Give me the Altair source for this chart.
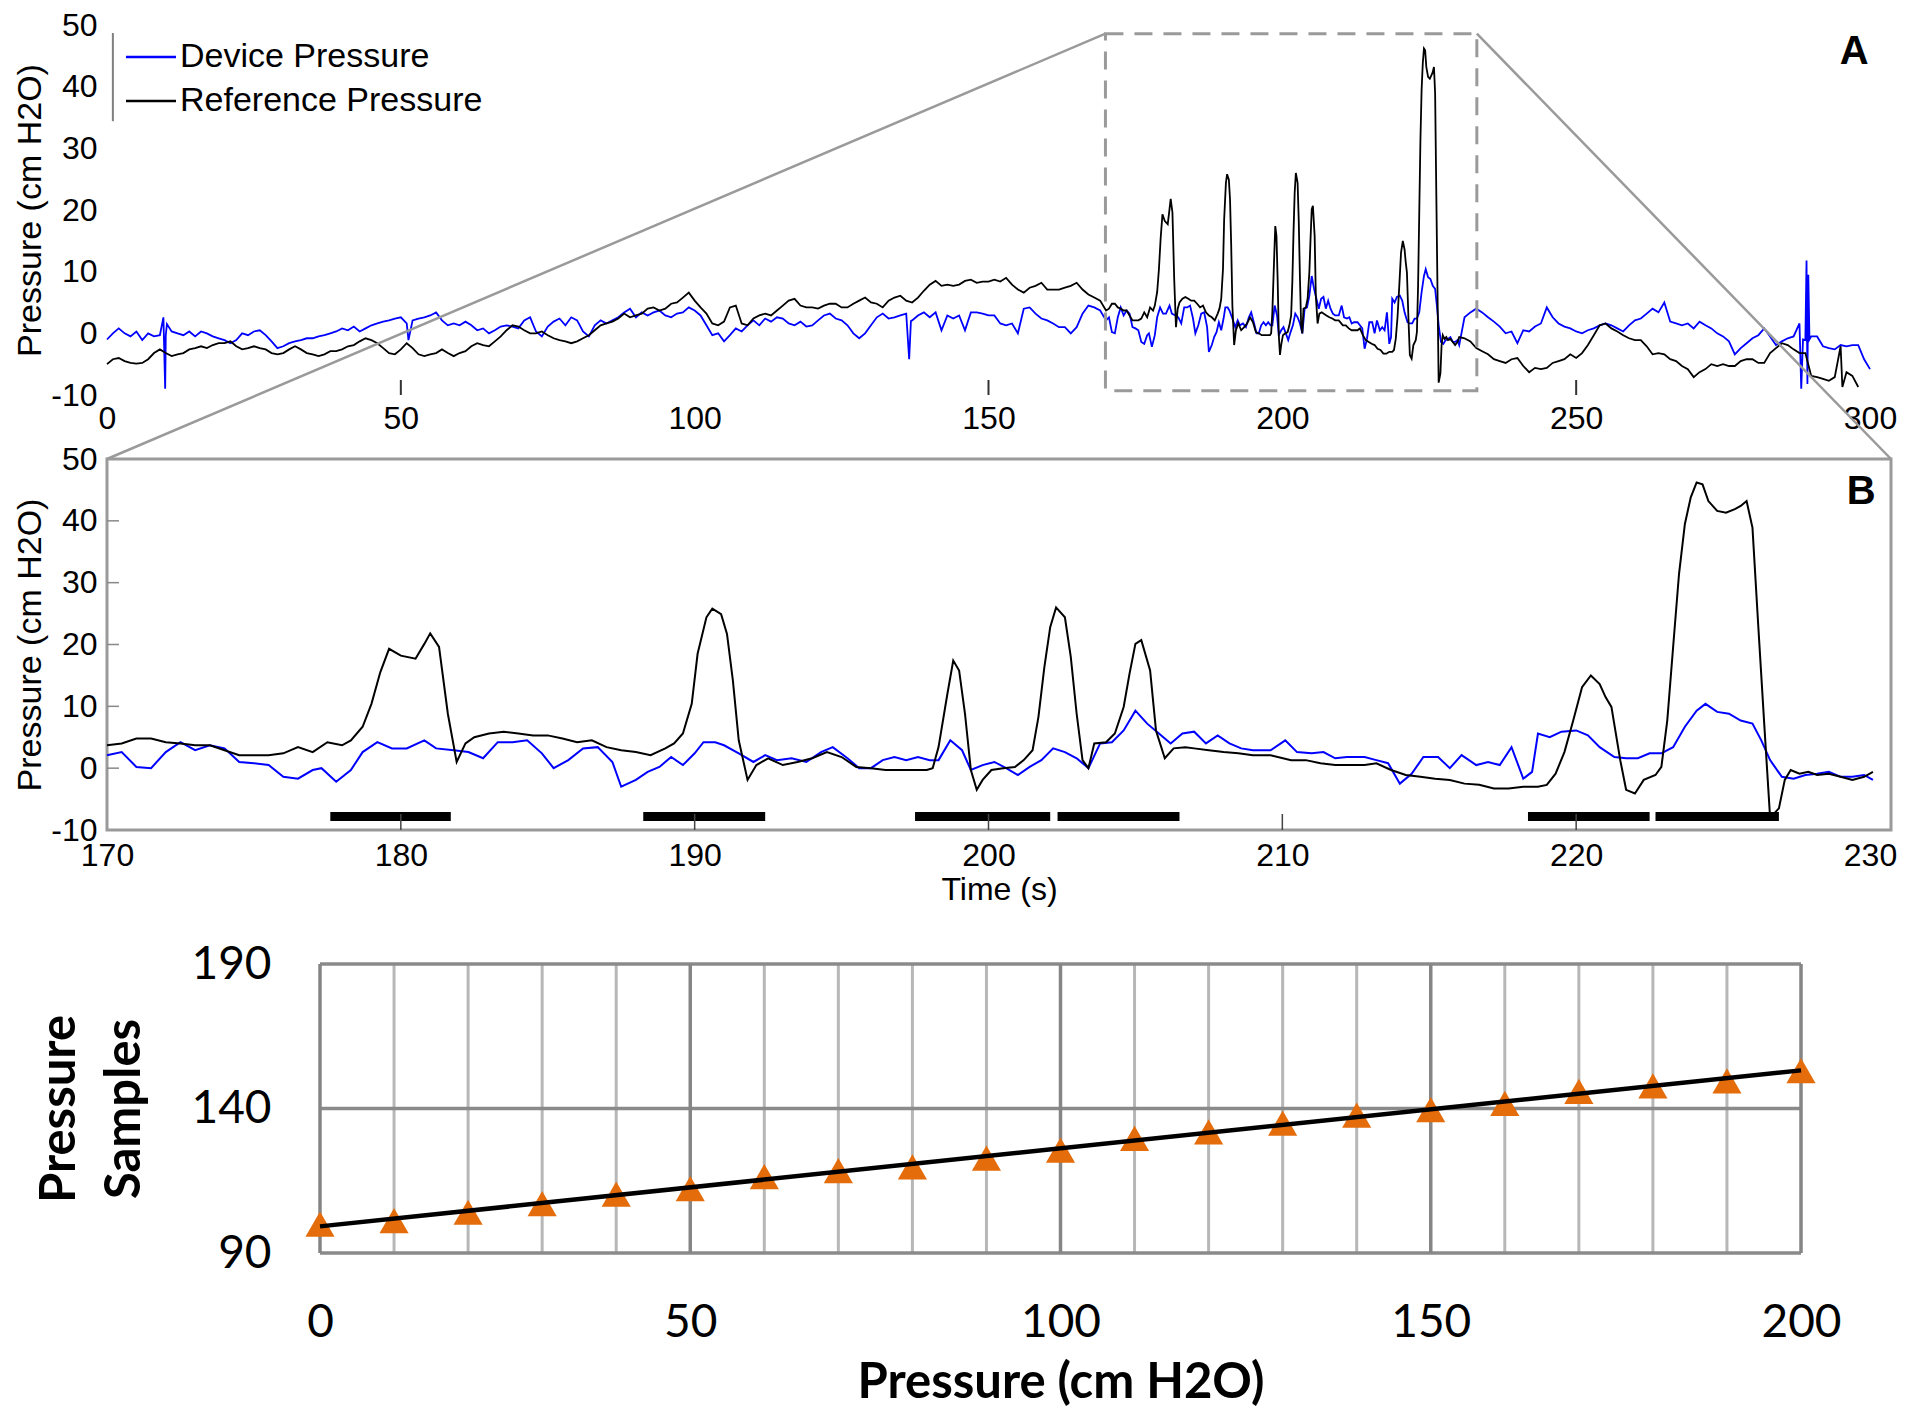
import altair as alt
import pandas as pd

ARIAL = "Liberation Sans"
CAL = "Lato"
BLUE = "#0000ff"
BLACK = "#000000"
GREY = "#9a9a9a"

SERIES = ["Device Pressure", "Reference Pressure"]

# ---------------- Panel A : whole recording, 0-300 s ----------------
a_time_pre = list(range(0, 170))
a_ref_pre = [
    -5.0, -4.2, -4.0, -4.5, -4.8, -4.9, -4.8, -4.2, -3.2, -2.6,
    -3.2, -3.7, -3.4, -3.2, -2.6, -2.4, -2.1, -2.4, -1.9, -1.6,
    -1.6, -1.3, -2.1, -2.6, -2.4, -2.1, -2.4, -2.6, -3.2, -3.4,
    -3.2, -2.6, -2.1, -2.6, -3.2, -3.4, -3.7, -3.4, -2.9, -2.9,
    -2.6, -2.1, -1.9, -1.3, -0.8, -1.1, -1.6, -2.4, -3.2, -3.4,
    -2.6, -1.6, -2.4, -3.4, -3.7, -3.4, -3.2, -2.6, -3.2, -3.7,
    -3.2, -2.9, -2.1, -1.6, -1.9, -2.1, -1.3, -0.5, 0.5, 1.3,
    1.1, 0.5, 0.0,
    0.0, 0.3, -0.3, -0.8, -1.1, -1.3, -1.6, -1.3, -0.8, -0.3,
    0.5, 1.3, 1.6, 1.9, 2.4, 3.2, 2.6, 2.9, 3.2, 4.0,
    4.2, 3.7, 4.0, 4.8, 5.0, 5.8, 6.6, 5.3, 4.2, 3.2,
    1.6, 1.3, 1.9, 4.2, 4.5, 1.6, 1.3, 2.4, 2.9, 3.2,
    2.9, 3.7, 4.5, 5.3, 5.6, 4.5, 4.2, 4.2, 4.0, 4.5,
    4.8, 4.8, 4.2, 4.2, 4.8, 5.3, 5.8, 5.0, 4.8, 4.2,
    5.3, 5.8, 6.1, 5.3, 5.0, 5.8, 6.9, 7.9, 8.5, 7.7,
    7.9, 7.7, 7.9, 8.5, 8.7,
    8.2, 8.4, 8.4, 8.7, 8.4, 9.0, 7.9, 7.1, 6.6, 7.4,
    7.7, 8.2, 7.1, 7.1, 7.1, 7.4, 7.7, 8.2, 7.1, 6.3,
    5.8, 5.3,
]
a_dev_pre = [
    -1.0, 0.0, 0.8, 0.0, -0.5, 0.3, -1.1, 0.0, -0.5, -0.3,
    -0.3, 0.3, 0.0, -0.3, 0.3, -0.5, 0.3, 0.0, -0.5, -0.8,
    -1.1, -1.6, -1.1, 0.0, -0.3, 0.3, 0.5, -0.3, -1.3, -2.4,
    -2.1, -1.6, -1.3, -1.1, -0.8, -0.8, -0.5, -0.3, 0.0, 0.3,
    0.8, 0.5, 1.1, 0.3, 0.8, 1.3, 1.6, 1.9, 2.1, 2.4,
    2.6, 1.6, 2.1, 2.4, 2.6, 2.9, 3.4, 2.1, 1.3, 1.6,
    1.3, 1.9, 1.3, 0.5, 0.8, 0.0, 0.5, 1.1, 1.3, 1.1,
    0.8, 2.1, 2.6,
    0.3, -0.5, 1.1, 1.9, 2.4, 1.3, 2.6, 2.1, 0.3, -0.5,
    1.3, 2.1, 1.6, 2.1, 2.6, 3.4, 4.0, 2.6, 3.4, 2.9,
    3.4, 3.7, 2.9, 2.6, 3.2, 3.4, 4.2, 3.7, 2.9, 1.3,
    -0.3, 0.0, -1.3, -0.3, 0.8, 0.3, 1.3, 2.1, 1.3, 2.4,
    1.9, 2.6, 2.4, 1.6, 1.3, 1.9, 1.1, 1.3, 2.1, 2.9,
    3.2, 2.4, 2.1, 1.3, 0.0, -0.8, 0.0, 1.3, 2.6, 3.2,
    2.4, 2.6, 2.9, 3.2, 2.1, 2.9, 3.4, 2.6, 3.4, 0.5,
    2.9, 2.4, 2.9, 0.5, 3.4,
    3.4, 3.2, 2.9, 2.9, 1.6, 1.3, 1.6, 0.0, 4.0, 4.2,
    3.2, 2.4, 2.1, 1.6, 1.0, 1.0, 0.0, 1.0, 3.2, 4.5,
    4.2, 3.7,
]
a_time_post_ref = list(range(231, 299))
a_ref_post = [
    -0.8, -1.3, -2.4, -2.9, -3.4, -4.2, -4.5, -4.8, -4.2, -4.0,
    -5.3, -6.3, -5.6, -5.8, -5.6, -4.8, -4.5, -4.2, -3.4, -4.0,
    -3.2, -1.9, -0.3, 1.3, 1.6, 0.8, 0.3, -0.3, -0.8, -1.1,
    -1.1, -2.1, -3.4, -3.2, -3.4, -4.2, -4.5, -5.3, -5.8, -7.1,
    -6.3, -5.8, -5.0, -5.3, -5.0, -5.3, -5.3, -4.5, -4.2, -4.2,
    -4.8, -4.8, -3.2, -2.4, -1.6, -1.9, -2.6, -3.2, -3.2, -6.9,
    -7.1, -7.4, -7.7, -7.1, -2.1, -6.3, -6.9, -8.7,
]
a_time_post_dev = list(range(231, 301))
a_dev_post = [
    2.6, 3.4, 4.0, 3.4, 2.6, 1.9, 1.1, 0.0, 0.3, -1.6,
    0.5, 0.3, 1.1, 1.6, 4.2, 2.6, 1.6, 1.1, 0.8, 0.3,
    0.0, 0.5, 0.8, 1.3, 1.6, 1.3, 0.8, 0.3, 1.3, 2.1,
    2.4, 3.2, 4.0, 3.4, 5.0, 1.9, 1.6, 1.3, 1.6, 0.8,
    1.9, 1.3, 0.8, 0.0, -0.5, -1.3, -3.4, -2.4, -1.6, -0.8,
    -0.3, 0.8, -0.5, -1.9, -1.3, -0.8, -0.5, 1.6, -1.1, -0.5,
    -0.5, -2.1, -2.4, -2.6, -1.9, -2.1, -1.9, -1.9, -4.2, -5.8,
]
a_dev_spikes = [(9.6, 2.6), (9.9, -9.0), (10.2, 1.5), (51.3, -1.1),
                (136.5, -4.2), (136.8, 2.0), (288.3, -9.0), (288.6, -1.0),
                (289.2, 11.8), (289.35, -8.2), (289.5, 9.5), (289.7, -1.0)]
a_ref_spikes = [(295.3, -8.7)]

# zoom window drawn on panel A: t from, t to, v from, v to
zoom_box = [(169.9, 233.1, -9.3, 48.6)]

# ---------------- Panel B : zoom 170-230 s ----------------
b_ref = [
    (170.0, 3.7), (170.5, 4.0), (171.0, 4.8), (171.5, 4.8), (172.0, 4.2), (172.5, 4.0),
    (173.0, 3.7), (173.5, 3.7), (174.0, 2.9), (174.5, 2.1), (175.0, 2.1), (175.5, 2.1),
    (176.0, 2.4), (176.5, 3.4), (177.0, 2.6), (177.5, 4.2), (178.0, 3.7), (178.3, 4.5),
    (178.7, 6.7), (179.0, 10.4), (179.3, 15.5), (179.6, 19.3), (180.0, 18.2), (180.5, 17.7),
    (180.8, 20.1), (181.0, 21.8), (181.3, 19.6), (181.6, 8.8), (181.9, 1.0), (182.2, 4.0),
    (182.5, 5.0), (183.0, 5.6), (183.5, 5.9), (184.0, 5.6), (184.5, 5.3), (185.0, 5.3),
    (185.5, 4.8), (186.0, 4.2), (186.5, 4.5), (187.0, 3.4), (187.5, 2.9), (188.0, 2.6),
    (188.5, 2.1), (189.0, 3.2), (189.3, 4.0), (189.6, 5.6), (189.9, 10.4), (190.1, 18.5),
    (190.4, 24.4), (190.6, 25.8), (190.9, 24.9), (191.1, 21.7), (191.3, 14.2), (191.5, 4.5),
    (191.8, -1.9), (192.1, 0.5), (192.5, 1.6), (193.0, 0.5), (193.5, 1.0), (194.0, 1.6),
    (194.5, 2.6), (195.0, 1.8), (195.5, 0.2), (196.0, 0.0), (196.5, -0.3), (197.0, -0.3),
    (197.5, -0.3), (197.9, -0.3), (198.1, 0.0), (198.3, 3.4), (198.6, 12.0), (198.8, 17.4),
    (199.0, 15.8), (199.2, 8.8), (199.4, -0.3), (199.6, -3.5), (199.8, -1.9), (200.1, -0.3),
    (200.5, 0.0), (200.9, 0.2), (201.2, 1.3), (201.5, 2.9), (201.7, 8.3), (201.9, 16.3),
    (202.1, 22.8), (202.3, 26.0), (202.6, 24.4), (202.8, 18.0), (203.0, 8.8), (203.2, 1.3),
    (203.4, 0.0), (203.6, 4.0), (204.0, 4.2), (204.3, 5.6), (204.6, 9.9), (204.8, 15.3),
    (205.0, 20.1), (205.2, 20.7), (205.5, 15.8), (205.7, 6.1), (206.0, 1.6), (206.3, 3.2),
    (206.7, 3.4), (207.0, 3.2), (207.5, 2.9), (208.0, 2.6), (208.5, 2.4), (209.0, 2.1),
    (209.6, 2.1), (210.3, 1.3), (210.8, 1.3), (211.3, 0.8), (211.8, 0.5), (212.3, 0.5),
    (212.8, 0.5), (213.2, 0.8), (213.7, -0.3), (214.2, -1.1), (214.7, -1.4), (215.2, -1.7),
    (215.7, -1.9), (216.2, -2.5), (216.7, -2.7), (217.2, -3.3), (217.7, -3.3), (218.2, -3.0),
    (218.7, -3.0), (219.0, -2.7), (219.3, -0.9), (219.6, 2.6), (219.9, 7.7), (220.2, 13.1),
    (220.5, 15.0), (220.8, 13.6), (221.0, 11.5), (221.2, 9.9), (221.5, 1.3), (221.7, -3.5),
    (222.0, -4.1), (222.3, -1.9), (222.7, -1.1), (222.9, 0.2), (223.1, 7.7), (223.3, 19.6),
    (223.5, 31.4), (223.7, 39.5), (223.9, 43.8), (224.1, 46.2), (224.3, 45.9), (224.5, 43.2),
    (224.8, 41.6), (225.1, 41.3), (225.4, 41.9), (225.6, 42.4), (225.8, 43.2), (226.0, 38.9),
    (226.2, 22.8), (226.4, 7.2), (226.6, -8.0), (226.9, -6.5), (227.1, -1.9), (227.3, -0.3),
    (227.6, -0.9), (227.9, -0.6), (228.2, -1.1), (228.6, -0.9), (229.0, -1.4), (229.4, -1.9),
    (229.8, -1.4), (230.1, -0.6),
]
b_dev = [
    (170.0, 2.1), (170.5, 2.6), (171.0, 0.2), (171.5, 0.0), (172.0, 2.6), (172.5, 4.2),
    (173.0, 2.9), (173.5, 3.7), (174.0, 3.2), (174.5, 1.0), (175.0, 0.8), (175.5, 0.5),
    (176.0, -1.4), (176.5, -1.7), (177.0, -0.3), (177.3, 0.0), (177.8, -2.2), (178.3, -0.3),
    (178.7, 2.6), (179.2, 4.2), (179.7, 3.2), (180.2, 3.2), (180.8, 4.5), (181.2, 3.2),
    (181.8, 2.9), (182.3, 2.6), (182.8, 1.6), (183.3, 4.2), (183.8, 4.2), (184.3, 4.5),
    (184.8, 2.4), (185.2, 0.0), (185.7, 1.3), (186.2, 3.2), (186.7, 3.4), (187.2, 1.0),
    (187.5, -3.0), (188.0, -1.9), (188.4, -0.6), (188.8, 0.2), (189.2, 1.8), (189.6, 0.5),
    (190.0, 2.4), (190.3, 4.2), (190.7, 4.2), (191.0, 3.7), (191.5, 2.4), (192.0, 1.0),
    (192.4, 2.1), (192.8, 1.3), (193.3, 1.6), (193.8, 1.0), (194.3, 2.6), (194.7, 3.4),
    (195.2, 1.6), (195.6, 0.0), (196.0, 0.0), (196.4, 1.3), (196.8, 1.8), (197.2, 1.3),
    (197.6, 1.8), (198.0, 1.3), (198.3, 1.3), (198.7, 4.5), (199.1, 2.9), (199.4, -0.3),
    (199.8, 0.5), (200.2, 1.0), (200.6, 0.0), (201.0, -1.1), (201.4, 0.2), (201.8, 1.3),
    (202.2, 3.2), (202.6, 2.6), (203.0, 1.6), (203.4, 0.0), (203.8, 4.0), (204.2, 4.2),
    (204.6, 6.1), (205.0, 9.3), (205.4, 7.2), (205.8, 5.6), (206.2, 4.0), (206.6, 5.6),
    (207.0, 5.9), (207.4, 4.0), (207.8, 5.3), (208.2, 4.0), (208.6, 3.2), (209.0, 2.9),
    (209.6, 2.9), (210.1, 4.5), (210.5, 2.6), (211.0, 2.4), (211.4, 2.6), (211.8, 1.6),
    (212.2, 1.8), (212.8, 1.8), (213.2, 1.3), (213.6, 0.8), (214.0, -2.5), (214.4, -0.9),
    (214.8, 1.8), (215.3, 1.8), (215.7, 0.0), (216.1, 2.1), (216.6, 0.5), (217.0, 1.0),
    (217.4, 0.5), (217.8, 3.4), (218.2, -1.7), (218.5, -0.6), (218.7, 5.6), (219.1, 5.0),
    (219.5, 5.9), (220.0, 6.1), (220.4, 5.3), (220.8, 3.4), (221.3, 1.8), (221.7, 1.6),
    (222.1, 1.6), (222.5, 2.4), (222.9, 2.4), (223.3, 3.4), (223.7, 6.7), (224.1, 9.3),
    (224.4, 10.4), (224.8, 9.1), (225.2, 8.8), (225.6, 7.7), (226.0, 7.2), (226.3, 4.5),
    (226.6, 1.3), (227.0, -1.4), (227.4, -1.7), (227.8, -1.1), (228.2, -0.9), (228.6, -0.6),
    (229.0, -1.4), (229.4, -1.4), (229.8, -1.1), (230.1, -1.9),
]
# black event bars (start, end in s) drawn at -7.8 cm H2O
b_bars = [(177.6, 181.7), (188.25, 192.4), (197.5, 202.1), (202.35, 206.5),
          (218.36, 222.5), (222.7, 226.9)]
b_bar_level = -7.8

# ---------------- Panel C : calibration ----------------
c_pressure = list(range(0, 201, 10))
c_samples = [100.0, 101.2, 104.1, 107.1, 110.4, 112.3, 116.4, 118.5, 119.8, 122.8,
             125.6, 129.7, 131.9, 134.9, 137.7, 139.6, 141.8, 145.9, 147.8, 149.6, 153.1]
c_ytick = [90, 140, 190]
c_xtick = [0, 50, 100, 150, 200]

# ---------------- geometry ----------------
A_W, A_H = 1763, 370
B_W, B_H = 1784, 371
GAP = 64
C_X0, C_W = 213, 1694
C_Y0, C_H = 70, 359

a_px_per_v = A_H / 60.0
a_px_per_t = A_W / 300.0
b_xmax = 170 + 60 * B_W / A_W
b_top_in_a = -10 - GAP / a_px_per_v
b_right_in_a = B_W / a_px_per_t

# ---------------- tables ----------------
def pairs_df(pairs, name):
    return pd.DataFrame(pairs, columns=["t", "v"]).assign(series=name)

a_dev_pairs = (list(zip(a_time_pre, a_dev_pre)) + [p for p in b_dev if p[0] <= 230.1]
               + list(zip(a_time_post_dev, a_dev_post)) + a_dev_spikes)
a_ref_pairs = (list(zip(a_time_pre, a_ref_pre)) + [p for p in b_ref if p[0] <= 230.1]
               + list(zip(a_time_post_ref, a_ref_post)) + a_ref_spikes)
a_df = pd.concat([pairs_df(a_dev_pairs, SERIES[0]), pairs_df(a_ref_pairs, SERIES[1])])
b_df = pd.concat([pairs_df(b_dev, SERIES[0]), pairs_df(b_ref, SERIES[1])])

box = zoom_box[0]
box_df = pd.DataFrame([{"t": box[0], "t2": box[1], "v": box[2], "v2": box[3]}])
conn_df = pd.DataFrame([
    {"t": box[0], "v": box[3], "t2": 0, "v2": b_top_in_a},
    {"t": box[1], "v": box[3], "t2": b_right_in_a, "v2": b_top_in_a},
])
color_scale = alt.Scale(domain=SERIES, range=[BLUE, BLACK])
HYPHEN = "'' + datum.value"

# ---------------- Panel A ----------------
xa = alt.Scale(domain=[0, 300], nice=False, zero=False)
ya = alt.Scale(domain=[-10, 50], nice=False, zero=False)
xa_axis = alt.Axis(values=list(range(0, 301, 50)), title=None, domain=False, ticks=False,
                   grid=False, labelFont=ARIAL, labelFontSize=32, labelPadding=8,
                   labelFlush=False, labelOverlap=False, labelColor="#000")
ya_axis = alt.Axis(values=list(range(-10, 51, 10)), title="Pressure (cm H2O)", domain=False,
                   ticks=False, grid=False, labelFont=ARIAL, labelFontSize=32, labelPadding=10,
                   labelExpr=HYPHEN, labelColor="#000", titleFont=ARIAL, titleFontSize=34,
                   titleFontWeight="normal", titleColor="#000", titlePadding=3)

a_lines = alt.Chart(a_df).mark_line(strokeWidth=1.8).encode(
    x=alt.X("t:Q", scale=xa, axis=xa_axis),
    y=alt.Y("v:Q", scale=ya, axis=ya_axis),
    color=alt.Color("series:N", scale=color_scale, legend=alt.Legend(
        title=None, orient="none", legendX=27, legendY=15, padding=0,
        symbolType="M-2,0H2", symbolSize=625, symbolStrokeWidth=2.5,
        labelFont=ARIAL, labelFontSize=34, labelColor="#000", labelOffset=12,
        labelLimit=600, rowPadding=10)),
    detail="series:N",
)
a_box = alt.Chart(box_df).mark_rect(fillOpacity=0, stroke=GREY, strokeWidth=3,
                                     strokeDash=[18, 11]).encode(
    x=alt.X("t:Q", scale=xa, axis=xa_axis), x2="t2:Q",
    y=alt.Y("v:Q", scale=ya, axis=ya_axis), y2="v2:Q")
a_conn = alt.Chart(conn_df).mark_rule(color=GREY, strokeWidth=2.5).encode(
    x=alt.X("t:Q", scale=xa, axis=xa_axis), x2="t2:Q",
    y=alt.Y("v:Q", scale=ya, axis=ya_axis), y2="v2:Q")
a_ticks = alt.Chart(pd.DataFrame({"t": [50, 150, 250]})).mark_rule(
    color="#333333", strokeWidth=2).encode(
    x=alt.X("t:Q", scale=xa, axis=xa_axis), y=alt.value(A_H), y2=alt.value(A_H - 15))
a_legend_edge = alt.Chart(pd.DataFrame({"t": [1.0], "v": [34.4], "v2": [48.7]})).mark_rule(
    color="#808080", strokeWidth=2).encode(
    x=alt.X("t:Q", scale=xa, axis=xa_axis), y=alt.Y("v:Q", scale=ya, axis=ya_axis), y2="v2:Q")
a_label = alt.Chart(pd.DataFrame({"t": [297.3], "v": [45.6], "txt": ["A"]})).mark_text(
    font=ARIAL, fontSize=40, fontWeight="bold", color="#000").encode(
    x=alt.X("t:Q", scale=xa, axis=xa_axis), y=alt.Y("v:Q", scale=ya, axis=ya_axis), text="txt:N")

panel_a = alt.layer(a_lines, a_box, a_ticks, a_legend_edge, a_label, a_conn).properties(
    width=A_W, height=A_H)

# ---------------- Panel B ----------------
xb = alt.Scale(domain=[170, b_xmax], nice=False, zero=False)
yb = alt.Scale(domain=[-10, 50], nice=False, zero=False)
xb_axis = alt.Axis(values=list(range(170, 231, 10)), title="Time (s)", domain=False, ticks=False,
                   grid=False, labelFont=ARIAL, labelFontSize=32, labelPadding=10,
                   labelFlush=False, labelOverlap=False, labelColor="#000",
                   titleFont=ARIAL, titleFontSize=32, titleFontWeight="normal",
                   titleColor="#000", titlePadding=3)
yb_axis = alt.Axis(values=list(range(-10, 51, 10)), title="Pressure (cm H2O)", domain=False,
                   ticks=False, grid=False, labelFont=ARIAL, labelFontSize=32, labelPadding=10,
                   labelExpr=HYPHEN, labelColor="#000", titleFont=ARIAL, titleFontSize=34,
                   titleFontWeight="normal", titleColor="#000", titlePadding=3)

b_lines = alt.Chart(b_df).mark_line(strokeWidth=2).encode(
    x=alt.X("t:Q", scale=xb, axis=xb_axis),
    y=alt.Y("v:Q", scale=yb, axis=yb_axis),
    color=alt.Color("series:N", scale=color_scale, legend=None),
    detail="series:N",
)
bars_df = pd.DataFrame([{"t": s, "t2": e, "v": b_bar_level} for s, e in b_bars])
b_barmarks = alt.Chart(bars_df).mark_rule(color=BLACK, strokeWidth=9).encode(
    x=alt.X("t:Q", scale=xb, axis=xb_axis), x2="t2:Q",
    y=alt.Y("v:Q", scale=yb, axis=yb_axis))
b_xticks = alt.Chart(pd.DataFrame({"t": list(range(180, 221, 10))})).mark_rule(
    color="#444444", strokeWidth=1.5).encode(
    x=alt.X("t:Q", scale=xb, axis=xb_axis), y=alt.value(B_H), y2=alt.value(B_H - 16))
b_yticks = alt.Chart(pd.DataFrame({"v": list(range(0, 41, 10))})).mark_rule(
    color="#888888", strokeWidth=1.5).encode(
    y=alt.Y("v:Q", scale=yb, axis=yb_axis), x=alt.value(0), x2=alt.value(12))
b_label = alt.Chart(pd.DataFrame({"t": [229.7], "v": [44.7], "txt": ["B"]})).mark_text(
    font=ARIAL, fontSize=40, fontWeight="bold", color="#000").encode(
    x=alt.X("t:Q", scale=xb, axis=xb_axis), y=alt.Y("v:Q", scale=yb, axis=yb_axis), text="txt:N")

panel_b = alt.layer(b_lines, b_barmarks, b_xticks, b_yticks, b_label).properties(
    width=B_W, height=B_H, view=alt.ViewBackground(stroke=GREY, strokeWidth=3))

# ---------------- Panel C ----------------
xc = alt.Scale(domain=[0, 200], range=[C_X0, C_W], nice=False, zero=False)
yc = alt.Scale(domain=[90, 190], range=[C_H, C_Y0], nice=False, zero=False)
xc_axis = alt.Axis(values=c_xtick, title="Pressure (cm H2O)", domain=False, ticks=False,
                   grid=False, labelFont=CAL, labelFontSize=46, labelPadding=47,
                   labelFlush=False, labelOverlap=False, labelColor="#000",
                   titleFont=CAL, titleFontSize=49, titleFontWeight="bold",
                   titleColor="#000", titlePadding=13)
yc_axis = alt.Axis(values=c_ytick, title=["Pressure", "Samples"], domain=False, ticks=False,
                   grid=False, offset=-C_X0, labelFont=CAL, labelFontSize=46, labelPadding=49,
                   labelColor="#000", titleFont=CAL, titleFontSize=49, titleFontWeight="bold",
                   titleColor="#000", titleLineHeight=65, titlePadding=41)

grid_df = pd.DataFrame({"p": c_pressure, "s": 90, "s2": 190})
grid_df["major"] = grid_df["p"] % 50 == 0
hgrid_df = pd.DataFrame({"s": c_ytick, "p": 0, "p2": 200})
c_df = pd.DataFrame({"p": c_pressure, "s": c_samples})

c_minor = alt.Chart(grid_df[~grid_df["major"]]).mark_rule(color="#b7b7b7", strokeWidth=3).encode(
    x=alt.X("p:Q", scale=xc, axis=xc_axis), y=alt.Y("s:Q", scale=yc, axis=yc_axis), y2="s2:Q")
c_hgrid = alt.Chart(hgrid_df).mark_rule(color="#8a8a8a", strokeWidth=3.5).encode(
    x=alt.X("p:Q", scale=xc, axis=xc_axis), x2="p2:Q", y=alt.Y("s:Q", scale=yc, axis=yc_axis))
c_major = alt.Chart(grid_df[grid_df["major"]]).mark_rule(color="#858585", strokeWidth=3.5).encode(
    x=alt.X("p:Q", scale=xc, axis=xc_axis), y=alt.Y("s:Q", scale=yc, axis=yc_axis), y2="s2:Q")
c_points = alt.Chart(c_df).mark_point(shape="triangle-up", filled=True, size=850,
                                      color="#e46c0a", opacity=1).encode(
    x=alt.X("p:Q", scale=xc, axis=xc_axis), y=alt.Y("s:Q", scale=yc, axis=yc_axis))
c_fit = alt.Chart(c_df).transform_regression("p", "s").mark_line(
    color=BLACK, strokeWidth=4.5).encode(
    x=alt.X("p:Q", scale=xc, axis=xc_axis), y=alt.Y("s:Q", scale=yc, axis=yc_axis))

panel_c = alt.layer(c_minor, c_hgrid, c_major, c_points, c_fit).properties(
    width=C_W, height=C_H)

chart = alt.vconcat(panel_a, panel_b, panel_c, spacing=GAP, bounds="flush").properties(
    padding={"left": 4, "top": 0, "right": 5, "bottom": 5},
    background="white",
).configure_view(stroke="transparent").resolve_scale(x="independent", y="independent", color="shared")

chart.save("out.html", embed_options={"renderer": "svg", "actions": False})
